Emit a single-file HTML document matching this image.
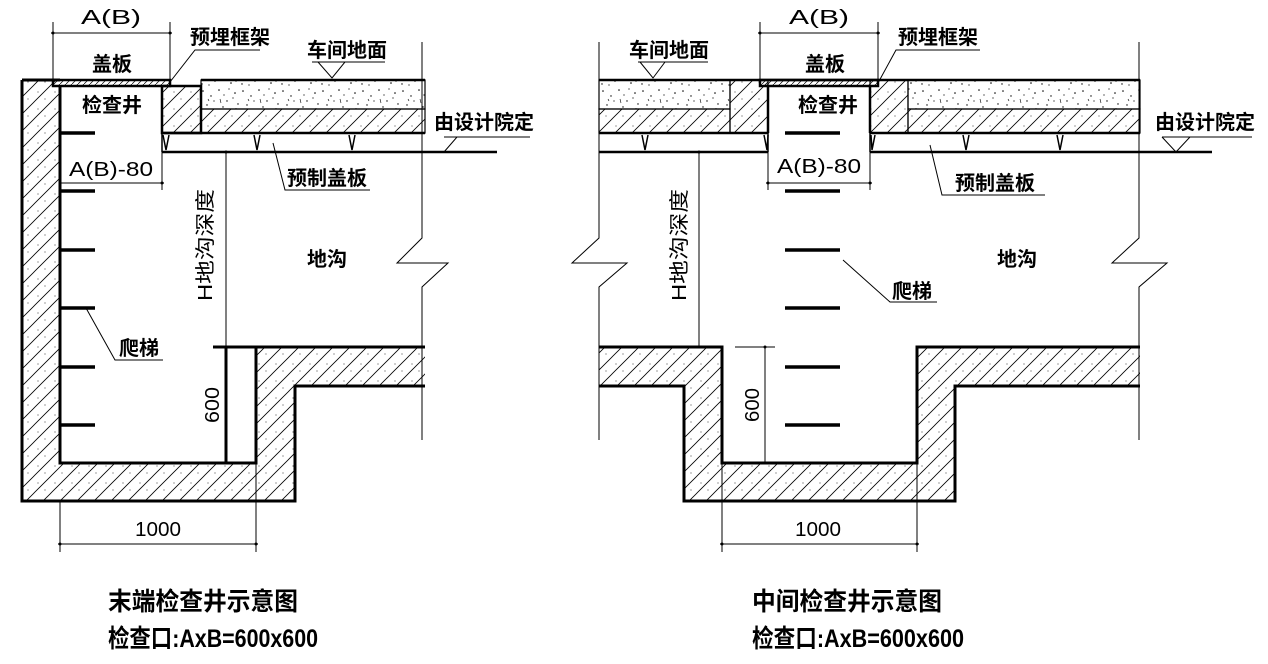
<!DOCTYPE html>
<html><head><meta charset="utf-8"><style>
html,body{margin:0;padding:0;background:#fff;}
svg{display:block;}
.cn{font-family:"Liberation Sans","Noto Sans CJK SC",sans-serif;font-weight:bold;font-size:20px;}
.dim{font-family:"Liberation Sans","Noto Sans CJK SC",sans-serif;font-size:20px;}
.tt{font-family:"Liberation Sans","Noto Sans CJK SC",sans-serif;font-weight:bold;font-size:25px;}
</style></head><body>
<svg width="1268" height="664" viewBox="0 0 1268 664" xmlns="http://www.w3.org/2000/svg">
<defs>
<pattern id="h" patternUnits="userSpaceOnUse" width="17" height="17">
<line x1="0" y1="17" x2="17" y2="0" stroke="#000" stroke-width="0.8"/>
<line x1="-3" y1="3" x2="3" y2="-3" stroke="#000" stroke-width="0.8"/>
<line x1="14" y1="20" x2="20" y2="14" stroke="#000" stroke-width="0.8"/>
<circle cx="4" cy="7" r="0.5" fill="#000"/><circle cx="11" cy="14" r="0.5" fill="#000"/>
</pattern>
<pattern id="hf" patternUnits="userSpaceOnUse" width="6" height="6">
<line x1="0" y1="6" x2="6" y2="0" stroke="#000" stroke-width="0.7"/>
</pattern>
<pattern id="c" patternUnits="userSpaceOnUse" width="40" height="29">
<g fill="#000">
<circle cx="3" cy="4" r="0.8"/><circle cx="11" cy="9" r="0.7"/><circle cx="19" cy="3" r="0.8"/><circle cx="27" cy="14" r="0.7"/>
<circle cx="35" cy="6" r="0.8"/><circle cx="7" cy="18" r="0.7"/><circle cx="15" cy="23" r="0.8"/><circle cx="23" cy="20" r="0.7"/>
<circle cx="31" cy="25" r="0.8"/><circle cx="38" cy="17" r="0.7"/><circle cx="2" cy="26" r="0.7"/><circle cx="14" cy="14" r="0.6"/>
<circle cx="24" cy="8" r="0.6"/><circle cx="33" cy="11" r="0.6"/><circle cx="29" cy="2" r="0.6"/><circle cx="9" cy="27" r="0.6"/>
<line x1="20" y1="12" x2="21" y2="16" stroke="#000" stroke-width="0.6"/>
<line x1="8" y1="12" x2="9" y2="14" stroke="#000" stroke-width="0.6"/>
<line x1="36" y1="21" x2="36" y2="24" stroke="#000" stroke-width="0.6"/>
</g>
</pattern>
</defs>

<!-- ================= LEFT DIAGRAM ================= -->
<g stroke="#000" fill="none">
<polygon points="22,80 60,80 60,463 256,463 256,347 425,347 425,386 295,386 295,501 22,501" fill="url(#h)" stroke="none"/>
<polyline points="425,347 256,347 256,463 60,463 60,86" stroke-width="3"/>
<polyline points="22,80 22,501 295,501 295,386 425,386" stroke-width="3"/>
<line x1="22" y1="80" x2="60" y2="80" stroke-width="3"/>
<line x1="213" y1="347" x2="256" y2="347" stroke-width="3"/>
<line x1="213" y1="463" x2="256" y2="463" stroke-width="3"/>
<line x1="226" y1="347" x2="226" y2="463" stroke-width="3"/>
<rect x="53" y="80" width="117" height="6" fill="url(#hf)" stroke-width="2.5"/>
<rect x="162" y="86" width="39" height="47" fill="url(#h)" stroke-width="2.5"/>
<rect x="201" y="80" width="224" height="29" fill="url(#c)" stroke-width="1.2"/>
<rect x="201" y="109" width="224" height="24" fill="url(#h)" stroke-width="1.2"/>
<line x1="201" y1="80" x2="425" y2="80" stroke-width="2.5"/>
<line x1="162" y1="133" x2="425" y2="133" stroke-width="2.5"/>
<line x1="162" y1="152" x2="497" y2="152" stroke-width="2.5"/>
<line x1="162" y1="133" x2="162" y2="152" stroke-width="1.5"/>
<polyline points="422,42 422,238 397,263 448,263 422,287 422,440" stroke-width="1"/>
<polyline points="163,135 166,150 169,135" stroke-width="1.5"/>
<polyline points="254,135 257,150 260,135" stroke-width="1.5"/>
<polyline points="349,135 352,150 355,135" stroke-width="1.5"/>
<g stroke-width="3.5">
<line x1="60" y1="133" x2="95" y2="133"/><line x1="60" y1="191" x2="95" y2="191"/>
<line x1="60" y1="250" x2="95" y2="250"/><line x1="60" y1="308" x2="95" y2="308"/>
<line x1="60" y1="367" x2="95" y2="367"/><line x1="60" y1="425" x2="95" y2="425"/>
</g>
<g stroke-width="1">
<line x1="53" y1="22" x2="53" y2="80"/><line x1="170" y1="22" x2="170" y2="80"/>
<line x1="51" y1="33" x2="172" y2="33"/>
<line x1="60" y1="183" x2="164" y2="183"/><line x1="162" y1="152" x2="162" y2="190"/>
<line x1="226" y1="152" x2="226" y2="347"/>
<line x1="60" y1="501" x2="60" y2="552"/><line x1="256" y1="463" x2="256" y2="552"/>
<line x1="58" y1="544" x2="258" y2="544"/>
<polyline points="170,82 195,50 260,50"/>
<polyline points="318,62 332,78 345,62 312,62 385,62"/>
<polyline points="273,143 285,190 370,190"/>
<polyline points="86,308 115,360 163,360"/>
<polyline points="444,152 457,137 470,137 444,137 530,137"/>
</g>
</g>
<g fill="#000">
<circle cx="53" cy="33" r="1.5"/><circle cx="170" cy="33" r="1.5"/><circle cx="60" cy="183" r="1.5"/><circle cx="162" cy="183" r="1.5"/>
<circle cx="60" cy="544" r="1.5"/><circle cx="256" cy="544" r="1.5"/><circle cx="226" cy="152" r="1.5"/><circle cx="226" cy="347" r="1.5"/>
</g>
<g class="dim">
<text x="111" y="24" text-anchor="middle" textLength="60" lengthAdjust="spacingAndGlyphs">A(B)</text>
<text x="111" y="176" text-anchor="middle" textLength="84" lengthAdjust="spacingAndGlyphs">A(B)-80</text>
<text x="158" y="536" text-anchor="middle" textLength="46" lengthAdjust="spacingAndGlyphs">1000</text>
<text transform="translate(219,405) rotate(-90)" text-anchor="middle" textLength="36" lengthAdjust="spacingAndGlyphs">600</text>
<text transform="translate(212,245) rotate(-90)" text-anchor="middle" textLength="112" lengthAdjust="spacingAndGlyphs">H地沟深度</text>
</g>
<g class="cn">
<text x="112" y="71" text-anchor="middle">盖板</text>
<text x="112" y="112" text-anchor="middle">检查井</text>
<text x="230" y="44" text-anchor="middle">预埋框架</text>
<text x="347" y="57" text-anchor="middle">车间地面</text>
<text x="484" y="129" text-anchor="middle">由设计院定</text>
<text x="327" y="185" text-anchor="middle">预制盖板</text>
<text x="327" y="266" text-anchor="middle">地沟</text>
<text x="139" y="355" text-anchor="middle">爬梯</text>
</g>
<text class="tt" x="108" y="610" textLength="190" lengthAdjust="spacingAndGlyphs">末端检查井示意图</text>
<text class="tt" x="108" y="647" textLength="210" lengthAdjust="spacingAndGlyphs">检查口:AxB=600x600</text>

<!-- ================= RIGHT DIAGRAM ================= -->
<g stroke="#000" fill="none">
<polygon points="599,347 722,347 722,463 917,463 917,347 1140,347 1140,386 955,386 955,501 684,501 684,386 599,386" fill="url(#h)" stroke="none"/>
<polyline points="599,347 722,347 722,463 917,463 917,347 1140,347" stroke-width="3"/>
<polyline points="1140,386 955,386 955,501 684,501 684,386 599,386" stroke-width="3"/>
<rect x="599" y="80" width="131" height="29" fill="url(#c)" stroke-width="1.2"/>
<rect x="599" y="109" width="131" height="24" fill="url(#h)" stroke-width="1.2"/>
<rect x="730" y="80" width="38" height="53" fill="url(#h)" stroke-width="1.2"/>
<rect x="870" y="80" width="38" height="53" fill="url(#h)" stroke-width="1.2"/>
<rect x="908" y="80" width="232" height="29" fill="url(#c)" stroke-width="1.2"/>
<rect x="908" y="109" width="232" height="24" fill="url(#h)" stroke-width="1.2"/>
<rect x="760" y="80" width="118" height="6" fill="url(#hf)" stroke-width="2.5"/>
<line x1="599" y1="80" x2="1140" y2="80" stroke-width="2.5"/>
<line x1="768" y1="86" x2="768" y2="133" stroke-width="2.5"/>
<line x1="870" y1="86" x2="870" y2="133" stroke-width="2.5"/>
<line x1="599" y1="133" x2="768" y2="133" stroke-width="2.5"/>
<line x1="870" y1="133" x2="1140" y2="133" stroke-width="2.5"/>
<line x1="599" y1="152" x2="768" y2="152" stroke-width="2.5"/>
<line x1="870" y1="152" x2="1212" y2="152" stroke-width="2.5"/>
<line x1="768" y1="133" x2="768" y2="152" stroke-width="1.5"/>
<line x1="870" y1="133" x2="870" y2="152" stroke-width="1.5"/>
<polyline points="599,42 599,238 572,263 627,263 599,287 599,440" stroke-width="1"/>
<polyline points="1139,42 1139,238 1112,263 1167,263 1139,287 1139,440" stroke-width="1"/>
<polyline points="642,135 645,150 648,135" stroke-width="1.5"/>
<polyline points="764,135 767,150 768,135" stroke-width="1.5"/>
<polyline points="871,135 872,150 875,135" stroke-width="1.5"/>
<polyline points="963,135 966,150 969,135" stroke-width="1.5"/>
<polyline points="1057,135 1060,150 1063,135" stroke-width="1.5"/>
<g stroke-width="3.5">
<line x1="785" y1="133" x2="840" y2="133"/><line x1="785" y1="191" x2="840" y2="191"/>
<line x1="785" y1="250" x2="840" y2="250"/><line x1="785" y1="308" x2="840" y2="308"/>
<line x1="785" y1="367" x2="840" y2="367"/><line x1="785" y1="425" x2="840" y2="425"/>
</g>
<g stroke-width="1">
<line x1="760" y1="22" x2="760" y2="80"/><line x1="878" y1="22" x2="878" y2="80"/>
<line x1="758" y1="33" x2="880" y2="33"/>
<line x1="768" y1="152" x2="768" y2="190"/><line x1="870" y1="152" x2="870" y2="190"/>
<line x1="766" y1="183" x2="872" y2="183"/>
<line x1="699" y1="152" x2="699" y2="347"/>
<line x1="735" y1="347" x2="775" y2="347"/>
<line x1="765" y1="347" x2="765" y2="463"/>
<line x1="722" y1="463" x2="722" y2="552"/><line x1="917" y1="463" x2="917" y2="552"/>
<line x1="720" y1="544" x2="919" y2="544"/>
<polyline points="878,83 896,50 980,50"/>
<polyline points="640,62 653,78 665,62 638,62 708,62"/>
<polyline points="930,145 942,195 1045,195"/>
<polyline points="843,260 890,302 937,302"/>
<polyline points="1162,137 1176,152 1190,137 1162,137 1252,137"/>
</g>
</g>
<g fill="#000">
<circle cx="760" cy="33" r="1.5"/><circle cx="878" cy="33" r="1.5"/><circle cx="768" cy="183" r="1.5"/><circle cx="870" cy="183" r="1.5"/>
<circle cx="722" cy="544" r="1.5"/><circle cx="917" cy="544" r="1.5"/><circle cx="699" cy="152" r="1.5"/><circle cx="699" cy="347" r="1.5"/>
<circle cx="765" cy="347" r="1.5"/><circle cx="765" cy="463" r="1.5"/>
</g>
<g class="dim">
<text x="819" y="24" text-anchor="middle" textLength="60" lengthAdjust="spacingAndGlyphs">A(B)</text>
<text x="819" y="173" text-anchor="middle" textLength="84" lengthAdjust="spacingAndGlyphs">A(B)-80</text>
<text x="818" y="536" text-anchor="middle" textLength="46" lengthAdjust="spacingAndGlyphs">1000</text>
<text transform="translate(759,405) rotate(-90)" text-anchor="middle" textLength="34" lengthAdjust="spacingAndGlyphs">600</text>
<text transform="translate(686,245) rotate(-90)" text-anchor="middle" textLength="112" lengthAdjust="spacingAndGlyphs">H地沟深度</text>
</g>
<g class="cn">
<text x="825" y="71" text-anchor="middle">盖板</text>
<text x="828" y="112" text-anchor="middle">检查井</text>
<text x="938" y="44" text-anchor="middle">预埋框架</text>
<text x="669" y="57" text-anchor="middle">车间地面</text>
<text x="1205" y="129" text-anchor="middle">由设计院定</text>
<text x="995" y="190" text-anchor="middle">预制盖板</text>
<text x="1017" y="266" text-anchor="middle">地沟</text>
<text x="912" y="298" text-anchor="middle">爬梯</text>
</g>
<text class="tt" x="752" y="610" textLength="190" lengthAdjust="spacingAndGlyphs">中间检查井示意图</text>
<text class="tt" x="752" y="647" textLength="212" lengthAdjust="spacingAndGlyphs">检查口:AxB=600x600</text>
</svg>
</body></html>
